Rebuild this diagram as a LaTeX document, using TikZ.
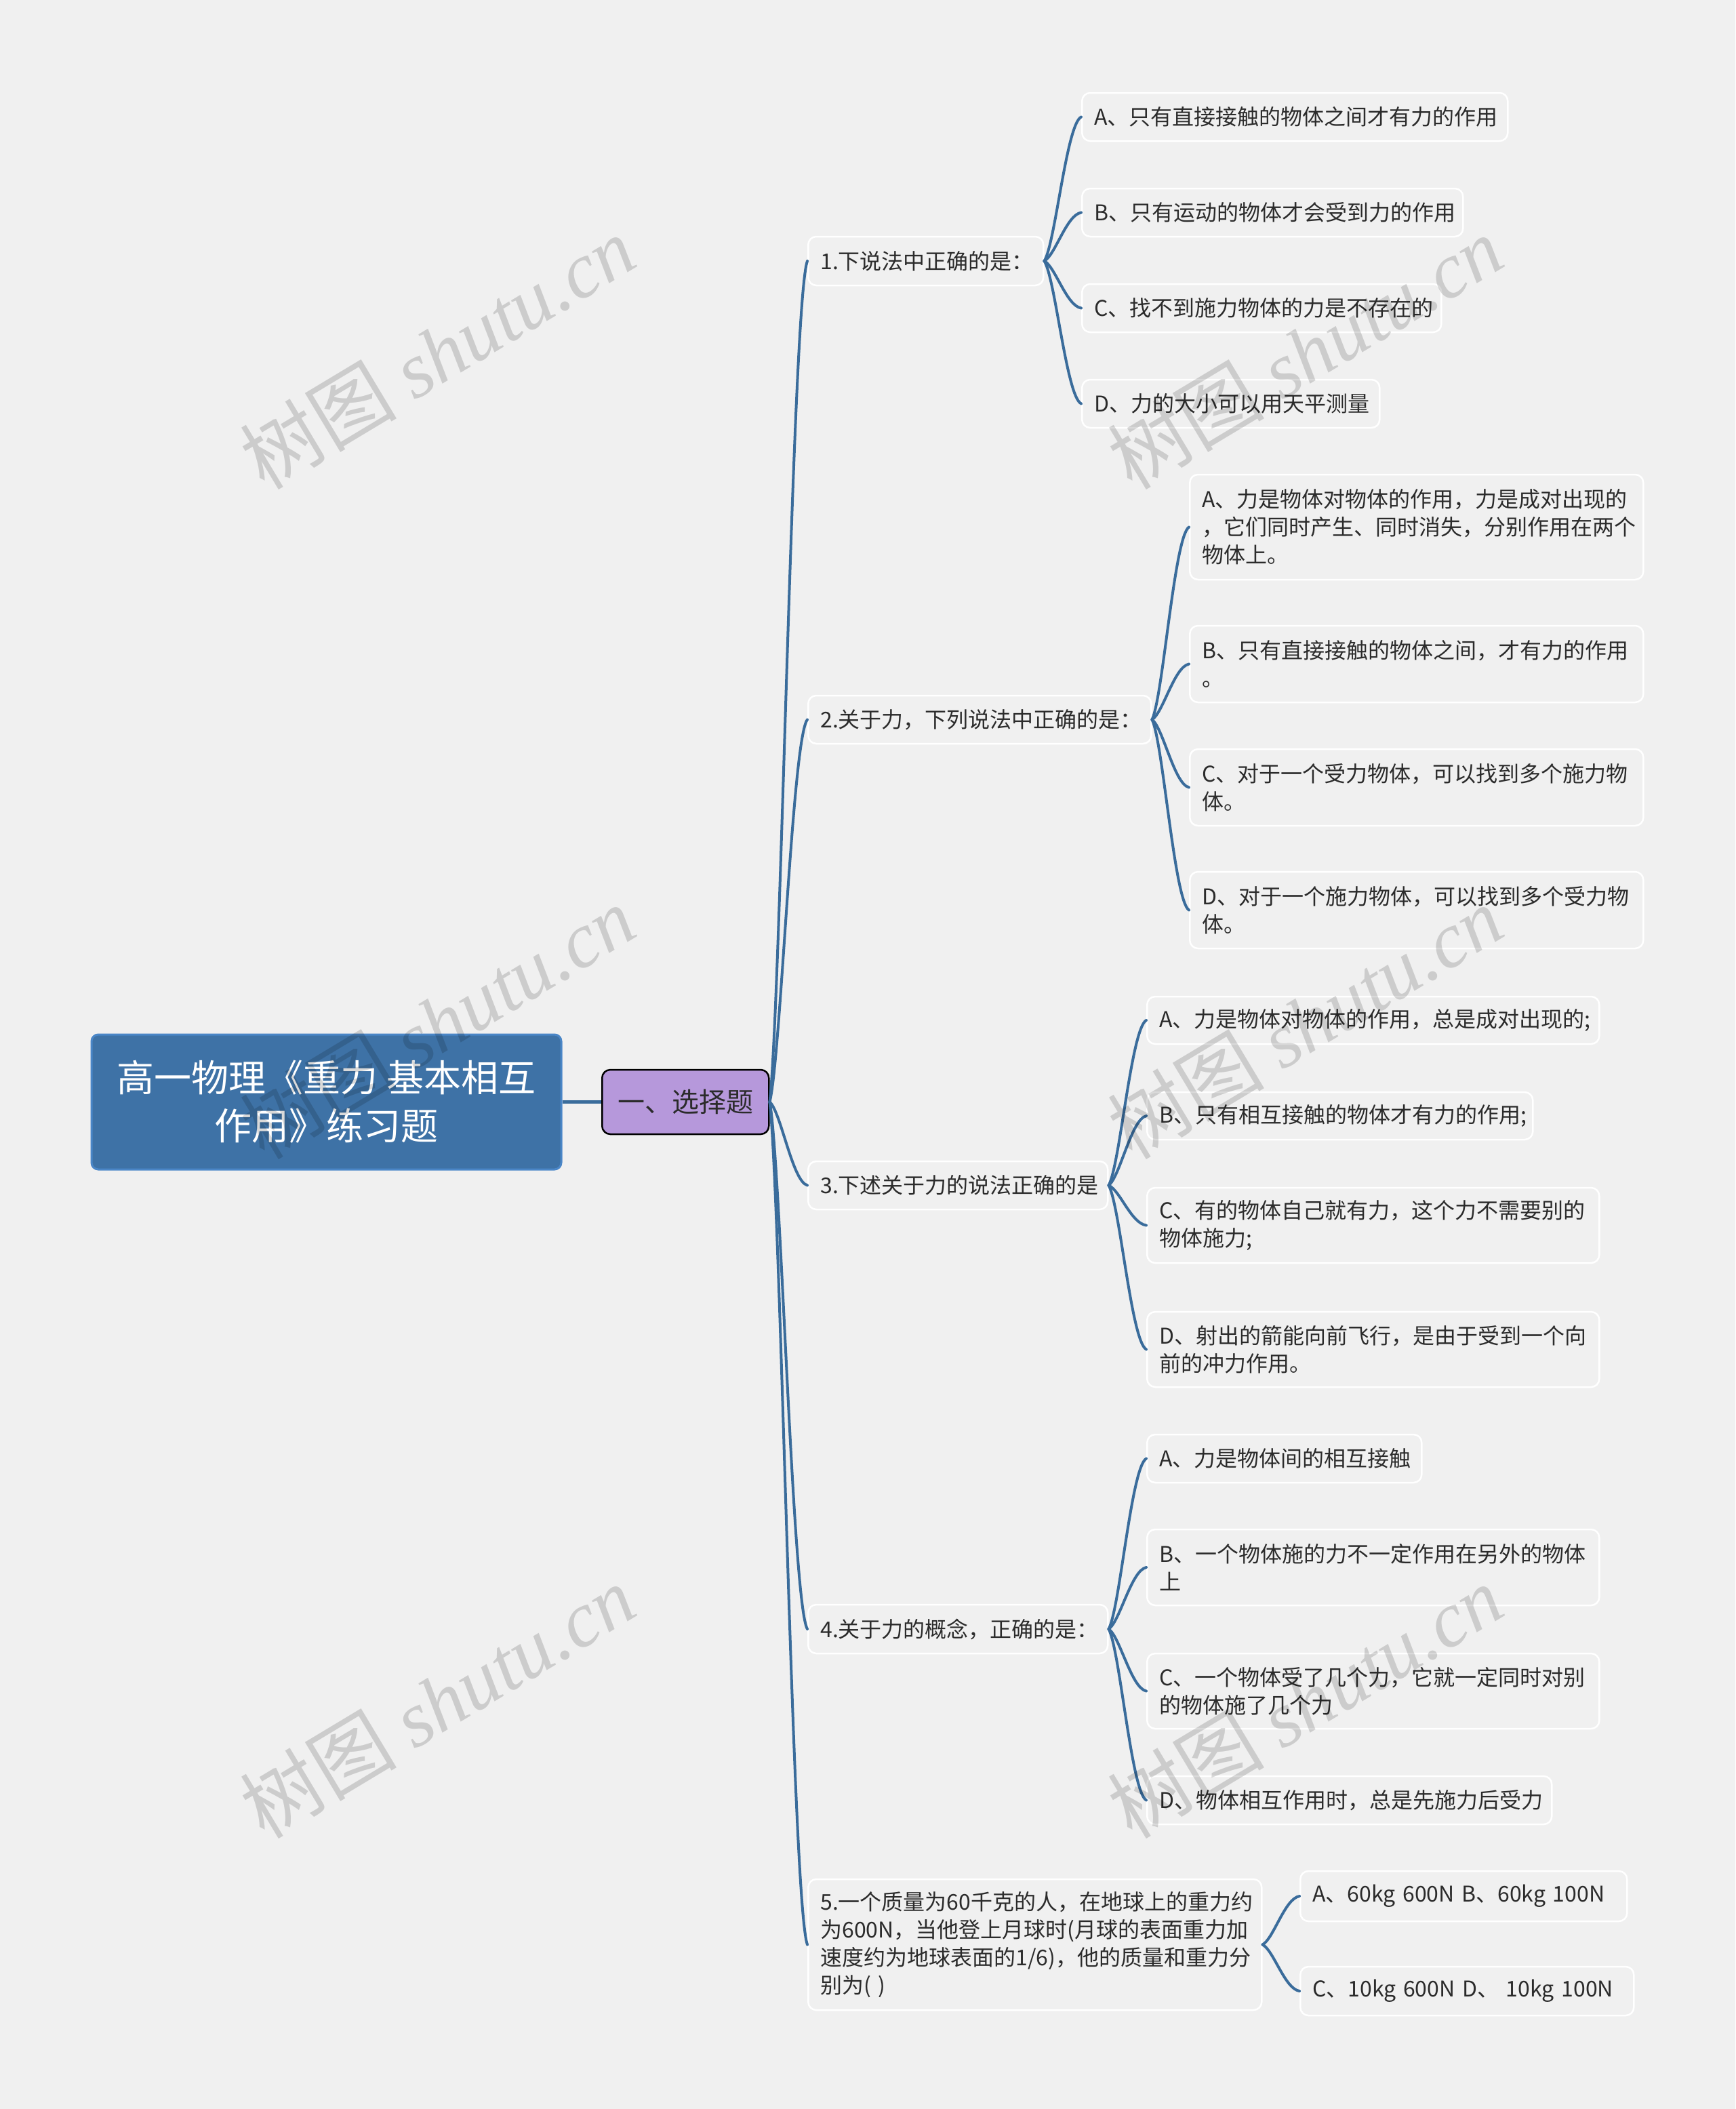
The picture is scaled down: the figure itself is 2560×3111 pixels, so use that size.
\documentclass[tikz,border=0pt]{standalone}
\usepackage{fontspec}
\setmainfont{Noto Sans CJK SC}
\newfontfamily\wmserif{Liberation Serif}
\usetikzlibrary{calc}
\definecolor{bgc}{HTML}{F0F0F0}
\definecolor{leaffill}{HTML}{F0F0F0}
\definecolor{connc}{HTML}{3A6C9B}
\definecolor{rootfill}{HTML}{3E72A6}
\definecolor{rootdraw}{HTML}{4A86C7}
\definecolor{catfill}{HTML}{B698DB}
\definecolor{txt}{HTML}{2B2B2B}
\tikzset{
  leaf/.style={draw=white, line width=2.5pt, fill=leaffill, rounded corners=12pt,
    inner xsep=18pt, inner ysep=0pt, align=left, anchor=west, text=txt,
    font=\fontsize{32}{41}\selectfont},
  rootbox/.style={draw=rootdraw, line width=3pt, fill=rootfill, rounded corners=10pt,
    text=white, align=center, font=\fontsize{55}{71}\selectfont, inner sep=0pt,
    minimum width=693pt, minimum height=199pt},
  catbox/.style={draw=black, line width=2.5pt, fill=catfill, rounded corners=12pt,
    text=txt, font=\fontsize{40}{50}\selectfont, inner sep=0pt,
    minimum width=246pt, minimum height=95pt, anchor=west},
  conn/.style={draw=connc, line width=4pt, line cap=round},
  wm/.style={text=black, text opacity=0.15, font=\fontsize{116}{120}\selectfont, inner sep=0pt}
}
\newcommand\mmconn[2]{%
  \draw[conn] let \p1=(#1.east), \p2=(#2.west) in
  (\p1) .. controls ({\x1+0.3*(\x2-\x1)},{\y1+0.12*(\y2-\y1)})
  and ({\x2-0.4*(\x2-\x1)},{\y2-0.05*(\y2-\y1)}) .. (\p2);}
\begin{document}
\begin{tikzpicture}[x=1pt,y=-1pt]
\fill[bgc] (0,0) rectangle (2560,3111);
\useasboundingbox (0,0) rectangle (2560,3111);

% root and category
\node[rootbox] (root) at (481.5,1625.5) {高一物理《重力 基本相互\\作用》练习题};
\node[catbox] (cat) at (887,1625.5) {一、选择题};

% questions
\node[leaf, text width=311pt, minimum height=72pt] (q1) at (1191,385) {1.下说法中正确的是：};
\node[leaf, text width=470pt, minimum height=71pt] (q2) at (1191,1061.5) {2.关于力，下列说法中正确的是：};
\node[leaf, text width=406pt, minimum height=71pt] (q3) at (1191,1748.5) {3.下述关于力的说法正确的是};
\node[leaf, text width=406pt, minimum height=72pt] (q4) at (1191,2403) {4.关于力的概念，正确的是：};
\node[leaf, text width=633pt, minimum height=193pt] (q5) at (1191,2868.5) {5.一个质量为60千克的人，在地球上的重力约\\为600N，当他登上月球时(月球的表面重力加\\速度约为地球表面的1/6)，他的质量和重力分\\别为( )};

% Q1 leaves
\node[leaf, text width=592pt, minimum height=71pt] (q1a) at (1595,172.5) {A、只有直接接触的物体之间才有力的作用};
\node[leaf, text width=526pt, minimum height=71pt] (q1b) at (1595,313.5) {B、只有运动的物体才会受到力的作用};
\node[leaf, text width=494pt, minimum height=71pt] (q1c) at (1595,454.5) {C、找不到施力物体的力是不存在的};
\node[leaf, text width=403pt, minimum height=71pt] (q1d) at (1595,595.5) {D、力的大小可以用天平测量};

% Q2 leaves
\node[leaf, text width=633pt, minimum height=155pt] (q2a) at (1754,777.5) {A、力是物体对物体的作用，力是成对出现的\\，它们同时产生、同时消失，分别作用在两个\\物体上。};
\node[leaf, text width=633pt, minimum height=113pt] (q2b) at (1754,979.5) {B、只有直接接触的物体之间，才有力的作用\\。};
\node[leaf, text width=633pt, minimum height=113pt] (q2c) at (1754,1161.5) {C、对于一个受力物体，可以找到多个施力物\\体。};
\node[leaf, text width=633pt, minimum height=113pt] (q2d) at (1754,1342.5) {D、对于一个施力物体，可以找到多个受力物\\体。};

% Q3 leaves
\node[leaf, text width=631pt, minimum height=70pt] (q3a) at (1691,1505) {A、力是物体对物体的作用，总是成对出现的;};
\node[leaf, text width=533pt, minimum height=70pt] (q3b) at (1691,1646) {B、只有相互接触的物体才有力的作用;};
\node[leaf, text width=631pt, minimum height=111pt] (q3c) at (1691,1807.5) {C、有的物体自己就有力，这个力不需要别的\\物体施力;};
\node[leaf, text width=631pt, minimum height=111pt] (q3d) at (1691,1990.5) {D、射出的箭能向前飞行，是由于受到一个向\\前的冲力作用。};

% Q4 leaves
\node[leaf, text width=369pt, minimum height=71pt] (q4a) at (1691,2151.5) {A、力是物体间的相互接触};
\node[leaf, text width=631pt, minimum height=112pt] (q4b) at (1691,2312) {B、一个物体施的力不一定作用在另外的物体\\上};
\node[leaf, text width=631pt, minimum height=111pt] (q4c) at (1691,2494.5) {C、一个物体受了几个力，它就一定同时对别\\的物体施了几个力};
\node[leaf, text width=561pt, minimum height=71pt] (q4d) at (1691,2655.5) {D、物体相互作用时，总是先施力后受力};

% Q5 leaves
\node[leaf, text width=446pt, minimum height=74pt] (q5a) at (1917,2797) {A、60kg 600N B、60kg 100N};
\node[leaf, text width=456pt, minimum height=72pt] (q5c) at (1917,2937) {C、10kg 600N D、 10kg 100N};

% connectors
\draw[conn, line width=5pt, line cap=butt] (root.east) -- (cat.west);
\foreach \q in {q1,q2,q3,q4,q5}{\mmconn{cat}{\q}}
\foreach \l in {q1a,q1b,q1c,q1d}{\mmconn{q1}{\l}}
\foreach \l in {q2a,q2b,q2c,q2d}{\mmconn{q2}{\l}}
\foreach \l in {q3a,q3b,q3c,q3d}{\mmconn{q3}{\l}}
\foreach \l in {q4a,q4b,q4c,q4d}{\mmconn{q4}{\l}}
\foreach \l in {q5a,q5c}{\mmconn{q5}{\l}}

% watermarks
\node[wm, rotate=31] (wm1) at (645,520) {树图 {\wmserif\itshape shutu.cn}};
\node[wm, rotate=31] (wm2) at (1925,520) {树图 {\wmserif\itshape shutu.cn}};
\node[wm, rotate=31] (wm3) at (645,1508) {树图 {\wmserif\itshape shutu.cn}};
\node[wm, rotate=31] (wm4) at (1925,1508) {树图 {\wmserif\itshape shutu.cn}};
\node[wm, rotate=31] (wm5) at (645,2510) {树图 {\wmserif\itshape shutu.cn}};
\node[wm, rotate=31] (wm6) at (1925,2510) {树图 {\wmserif\itshape shutu.cn}};
\end{tikzpicture}
\end{document}
